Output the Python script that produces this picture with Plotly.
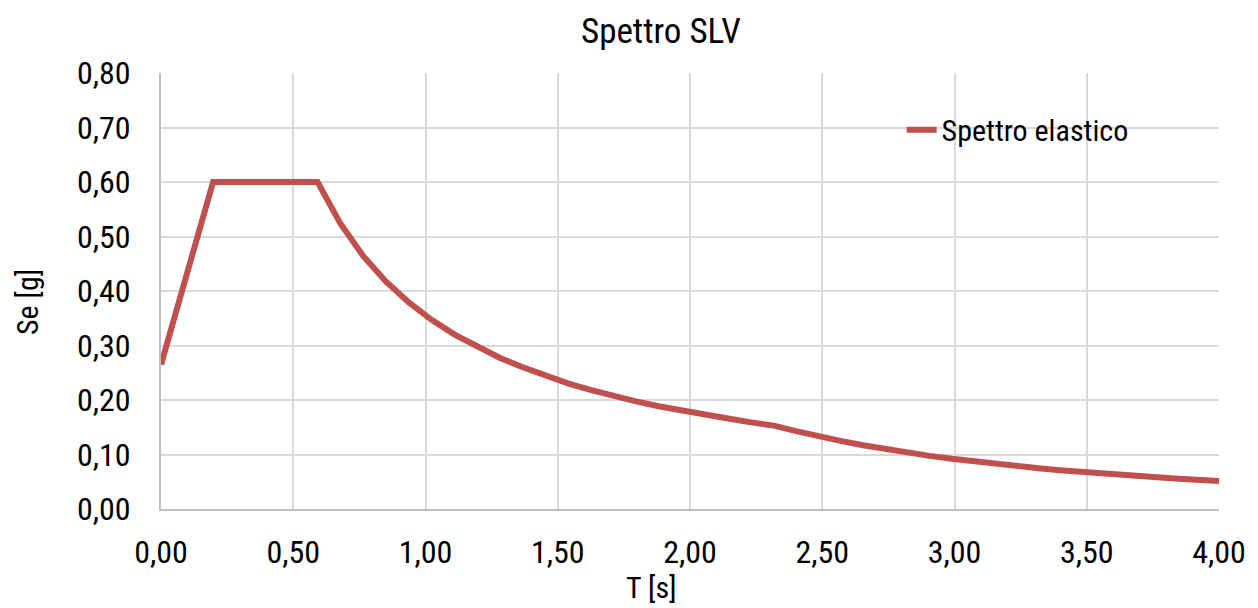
import plotly.graph_objects as go

# Spectrum points (T in s, Se in g)
T = [0.000, 0.197, 0.592, 0.678, 0.765, 0.851, 0.937, 1.023, 1.110, 1.196, 1.282,
     1.368, 1.455, 1.541, 1.627, 1.713, 1.800, 1.886, 1.972, 2.058, 2.144, 2.231,
     2.317, 2.401, 2.485, 2.569, 2.654, 2.738, 2.822, 2.906, 2.990, 3.075, 3.159,
     3.243, 3.327, 3.411, 3.495, 3.580, 3.664, 3.748, 3.832, 3.916, 4.000]
Se = [0.265, 0.600, 0.600, 0.524, 0.464, 0.417, 0.379, 0.347, 0.320, 0.297, 0.277,
      0.260, 0.244, 0.230, 0.218, 0.207, 0.197, 0.188, 0.180, 0.173, 0.166, 0.159,
      0.153, 0.143, 0.133, 0.125, 0.117, 0.110, 0.103, 0.0975, 0.0921, 0.0870, 0.0825,
      0.0783, 0.0744, 0.0707, 0.0674, 0.0642, 0.0613, 0.0586, 0.0560, 0.0537, 0.0514]

series_name = "Spettro elastico"
title_text = "Spettro SLV"
x_title = "T [s]"
y_title = "Se [g]"

FONT = "Roboto Condensed, Liberation Sans Narrow, Arial Narrow, Roboto, sans-serif"

fig = go.Figure()
fig.add_trace(go.Scatter(x=T, y=Se, mode="lines", name=series_name,
                         line=dict(color="#C0504D", width=6)))

fig.update_layout(
    width=1258, height=608,
    margin=dict(l=161, r=37, t=73, b=99),
    paper_bgcolor="white", plot_bgcolor="white",
    separators=",.",
    font=dict(family=FONT, size=32, color="#000000"),
    title=dict(text=title_text, x=0.5254, xanchor="center", y=0.95, yanchor="middle",
               font=dict(family=FONT, size=35, color="#000000")),
    showlegend=True,
    legend=dict(x=0.70, y=0.87, xanchor="left", yanchor="middle",
                bgcolor="rgba(0,0,0,0)", font=dict(family=FONT, size=30)),
    xaxis=dict(range=[0, 4], dtick=0.5, tickformat=".2f", showgrid=True,
               gridcolor="#D9D9D9", gridwidth=2, zeroline=False,
               showline=True, linecolor="#BFBFBF", linewidth=2,
               ticks="", ticklabelstandoff=14,
               tickfont=dict(size=32)),
    yaxis=dict(range=[0, 0.8], dtick=0.1, tickformat=".2f", showgrid=True,
               gridcolor="#D9D9D9", gridwidth=2, zeroline=False,
               showline=True, linecolor="#BFBFBF", linewidth=2,
               ticks="", ticklabelstandoff=22,
               tickfont=dict(size=32)),
    annotations=[
        dict(text=x_title, xref="paper", yref="paper", x=0.464, y=-0.181,
             xanchor="center", yanchor="middle", showarrow=False,
             font=dict(family=FONT, size=30)),
        dict(text=y_title, xref="paper", yref="paper", x=-0.1255, y=0.475,
             xanchor="center", yanchor="middle", showarrow=False, textangle=-90,
             font=dict(family=FONT, size=30)),
    ],
)

fig.write_html("out.html")
